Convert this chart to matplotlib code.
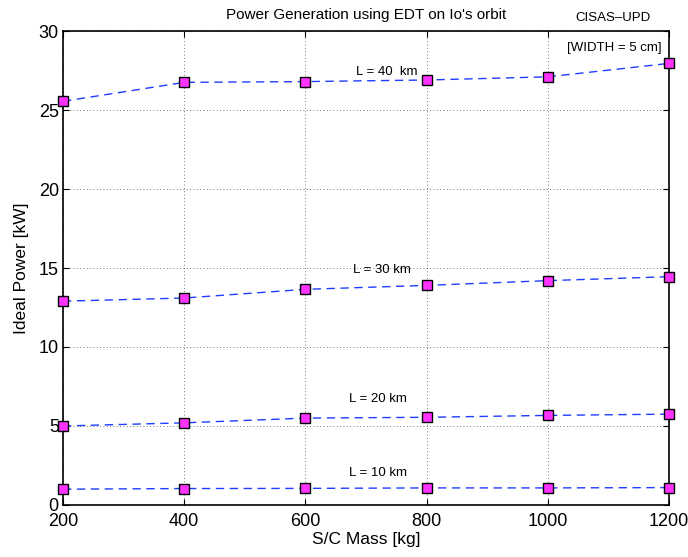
import matplotlib.pyplot as plt

plt.rcParams['font.family'] = ['Liberation Sans', 'DejaVu Sans']

# S/C mass [kg]
mass = [200, 400, 600, 800, 1000, 1200]

# ideal power [kW] for each tether length
p_10km = [1.00, 1.04, 1.05, 1.08, 1.08, 1.10]
p_20km = [5.00, 5.20, 5.50, 5.55, 5.67, 5.75]
p_30km = [12.90, 13.10, 13.65, 13.90, 14.20, 14.45]
p_40km = [25.55, 26.75, 26.80, 26.90, 27.10, 27.95]

series = [p_10km, p_20km, p_30km, p_40km]
labels = ['L = 10 km', 'L = 20 km', 'L = 30 km', 'L = 40  km']
label_pos = [(672, 2.0), (672, 6.7), (678, 14.9), (683, 27.4)]

fig = plt.figure(figsize=(6.88, 5.57), dpi=100)
ax = fig.add_axes([0.0916, 0.0934, 0.8808, 0.8509])

for p in series:
    ax.plot(mass, p, linestyle=(0, (6, 4)), color='#1f3cff', lw=1.0,
            marker='s', markersize=7.5, markerfacecolor='#ff33ff',
            markeredgecolor='black', markeredgewidth=1.0, clip_on=False, zorder=3)

for txt, (x, y) in zip(labels, label_pos):
    ax.text(x, y, txt, fontsize=9.5, ha='left', va='center')

ax.set_xlim(200, 1200)
ax.set_ylim(0, 30)
ax.set_xticks(mass)
ax.set_yticks([0, 5, 10, 15, 20, 25, 30])
ax.tick_params(direction='in', labelsize=13, length=4, top=True, right=True)
ax.tick_params(axis='x', pad=6)
ax.tick_params(axis='y', pad=3)
ax.grid(True, linestyle=(0, (1, 3)), color='black', lw=0.6, alpha=0.7)
for s in ax.spines.values():
    s.set_linewidth(1.2)

ax.set_xlabel('S/C Mass [kg]', fontsize=12.5, labelpad=1)
ax.set_ylabel('Ideal Power [kW]', fontsize=12.5, labelpad=7)
ax.set_title("Power Generation using EDT on Io's orbit", fontsize=11, pad=9)
fig.text(0.945, 0.968, 'CISAS\u2013UPD', fontsize=9.5, ha='right', va='center')
ax.text(1188, 28.9, '[WIDTH = 5 cm]', fontsize=9.5, ha='right', va='center')

fig.savefig('out.png', dpi=100)
